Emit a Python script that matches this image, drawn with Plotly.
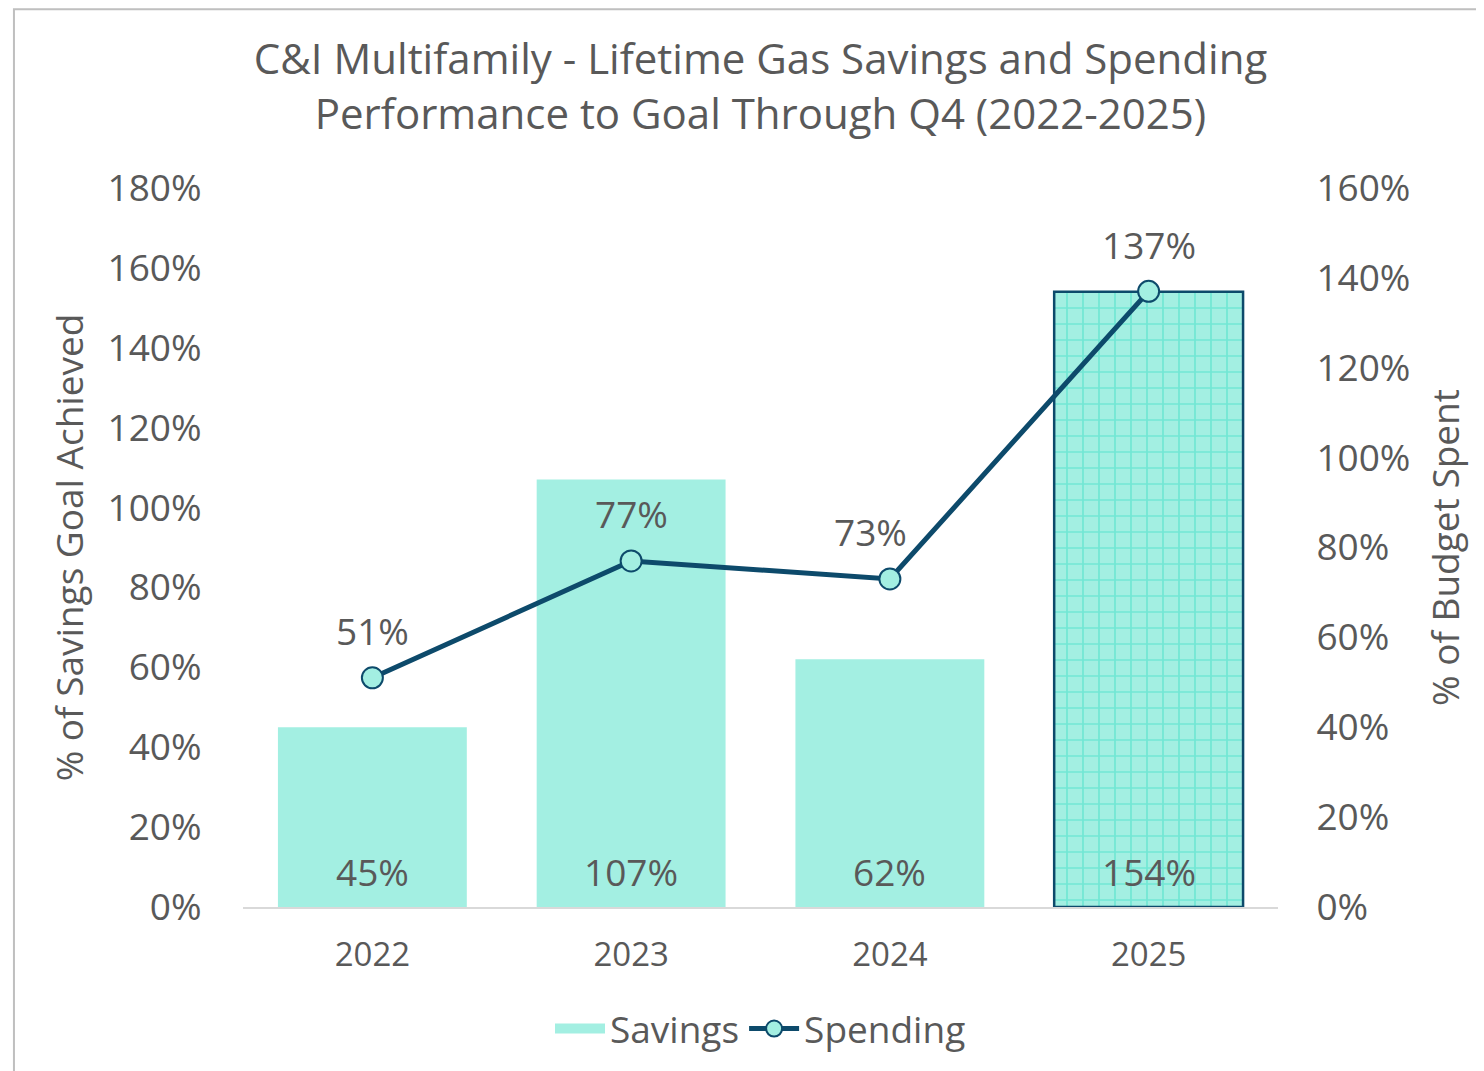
import plotly.graph_objects as go

years = ["2022", "2023", "2024", "2025"]
savings = [45, 107, 62, 154]
spending = [51, 77, 73, 137]
left_ticks = [0, 20, 40, 60, 80, 100, 120, 140, 160, 180]
right_ticks = [0, 20, 40, 60, 80, 100, 120, 140, 160]

GRAY = "#595959"
TEAL = "#A3EFE2"
NAVY = "#0D4A6B"
FONT = "Open Sans"
FS = 37

fig = go.Figure()
fig.add_trace(go.Bar(
    x=years, y=savings, name="Savings", showlegend=False,
    marker=dict(
        color=TEAL,
        line=dict(color=[TEAL, TEAL, TEAL, NAVY], width=[0, 0, 0, 2.5]),
        pattern=dict(shape=["", "", "", "+"], fgcolor="#3FDEC6", bgcolor=TEAL,
                     size=16, solidity=0.2, fillmode="overlay"),
    ),
))
# legend swatch for the bars (wide rectangle, as in the reference)
fig.add_trace(go.Scatter(
    x=[None], y=[None], name="Savings", mode="lines",
    line=dict(color=TEAL, width=25), hoverinfo="skip",
))
fig.add_trace(go.Scatter(
    x=years, y=spending, name="Spending", yaxis="y2", mode="lines+markers",
    line=dict(color=NAVY, width=5),
    marker=dict(size=21, color=TEAL, line=dict(color=NAVY, width=2)),
    cliponaxis=False,
))

annotations = []
for i, v in enumerate(savings):
    annotations.append(dict(x=i, y=0, xref="x", yref="y", text=f"{v}%", showarrow=False,
                            yanchor="middle", yshift=36,
                            font=dict(family=FONT, size=FS, color=GRAY)))
for i, v in enumerate(spending):
    annotations.append(dict(x=i, y=v, xref="x", yref="y2", text=f"{v}%", showarrow=False,
                            yanchor="middle", yshift=47, xshift=(-19 if years[i] == "2024" else 0),
                            font=dict(family=FONT, size=FS, color=GRAY)))

fig.update_layout(
    width=1476, height=1063,
    paper_bgcolor="white", plot_bgcolor="white",
    margin=dict(l=235, r=206, t=180, b=163),
    font=dict(family=FONT, color=GRAY),
    title=dict(text="C&I Multifamily - Lifetime Gas Savings and Spending<br>Performance to Goal Through Q4 (2022-2025)",
               x=0.5, xref="paper", y=0.938, yanchor="middle",
               font=dict(family=FONT, size=42, color=GRAY)),
    bargap=0.27,
    showlegend=True,
    legend=dict(orientation="h", x=0.5, xanchor="center", y=-0.125, yanchor="top",
                font=dict(family=FONT, size=FS, color=GRAY), itemwidth=50,
                traceorder="normal"),
    xaxis=dict(type="category", showline=True, linecolor="#D9D9D9", linewidth=2, showgrid=False,
               ticks="outside", ticklen=17, tickcolor="rgba(0,0,0,0)",
               tickfont=dict(family=FONT, size=33, color=GRAY)),
    yaxis=dict(range=[0, 180], tickvals=left_ticks, ticktext=[f"{v}%" for v in left_ticks],
               showgrid=False, zeroline=False, showline=False,
               ticks="outside", ticklen=33, tickcolor="rgba(0,0,0,0)",
               tickfont=dict(family=FONT, size=FS, color=GRAY),
               title=dict(text="% of Savings Goal Achieved", standoff=12,
                          font=dict(family=FONT, size=FS, color=GRAY))),
    yaxis2=dict(range=[0, 160], tickvals=right_ticks, ticktext=[f"{v}%" for v in right_ticks],
                overlaying="y", side="right", showgrid=False, zeroline=False, showline=False,
                ticks="outside", ticklen=30, tickcolor="rgba(0,0,0,0)",
                tickfont=dict(family=FONT, size=FS, color=GRAY),
                title=dict(text="% of Budget Spent", standoff=23,
                           font=dict(family=FONT, size=FS, color=GRAY))),
    annotations=annotations,
    shapes=[dict(type="rect", xref="paper", yref="paper", x0=-0.2213, x1=1.4, y0=-0.4, y1=1.2486,
                 line=dict(color="#BFBFBF", width=2), fillcolor="rgba(0,0,0,0)", layer="below")],
)

fig.write_html("out.html")
